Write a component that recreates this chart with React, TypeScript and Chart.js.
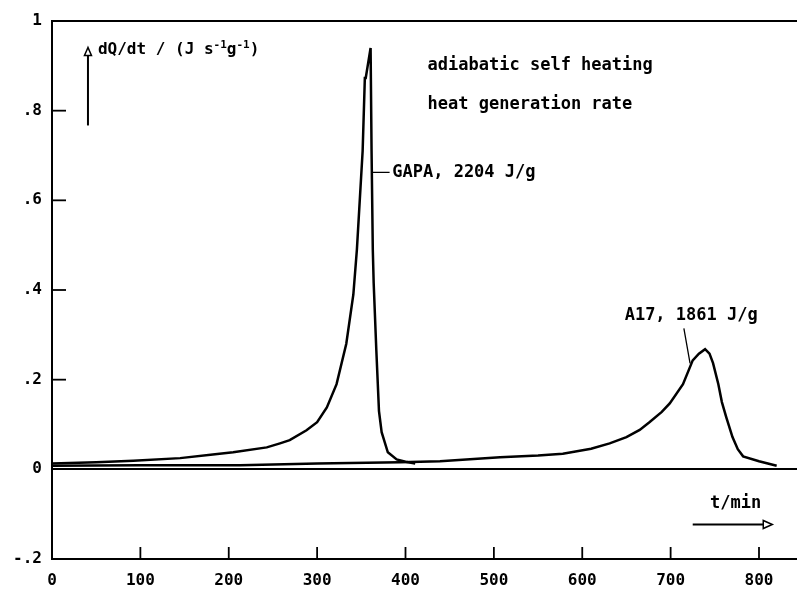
import React, { useEffect, useRef } from "react";
import { Chart, registerables } from "chart.js";
Chart.register(...registerables);

// GAPA sample: time (min) and heat generation rate (J s^-1 g^-1)
const gapaT = [0, 50, 92, 145, 182, 205, 243, 258, 269, 288, 300, 311, 322, 333, 341, 345, 351.5, 354, 355, 360.5, 361.6, 363, 364, 367, 370, 373, 380, 390, 400, 411];
const gapaQ = [0.013, 0.016, 0.019, 0.025, 0.033, 0.038, 0.049, 0.058, 0.065, 0.087, 0.105, 0.138, 0.19, 0.28, 0.39, 0.49, 0.71, 0.873, 0.873, 0.94, 0.71, 0.49, 0.415, 0.265, 0.13, 0.083, 0.038, 0.022, 0.017, 0.013];

// A17 sample
const a17T = [0, 100, 213, 300, 394, 439, 507, 550, 578, 610, 631, 650, 665, 676, 690, 699, 714, 725, 732, 739, 744, 748, 754, 758, 763, 770, 776, 782, 800, 820];
const a17Q = [0.008, 0.009, 0.009, 0.013, 0.016, 0.018, 0.027, 0.031, 0.035, 0.046, 0.058, 0.072, 0.088, 0.105, 0.128, 0.147, 0.19, 0.243, 0.258, 0.268, 0.258, 0.237, 0.19, 0.15, 0.116, 0.072, 0.045, 0.029, 0.018, 0.008];

const xTicks = [0, 100, 200, 300, 400, 500, 600, 700, 800];
const yTicks = [-0.2, 0, 0.2, 0.4, 0.6, 0.8, 1];
const yTickLabels = ["-.2", "0", ".2", ".4", ".6", ".8", "1"];

const FONT = "'DejaVu Sans Mono', monospace";

const decorations = {
  id: "decorations",
  afterDraw(chart: any) {
    const { ctx, chartArea, scales } = chart;
    const xs = scales.x;
    const ys = scales.y;
    const px = (v: number) => xs.getPixelForValue(v);
    const py = (v: number) => ys.getPixelForValue(v);
    ctx.save();
    ctx.strokeStyle = "#000";
    ctx.fillStyle = "#000";
    // top frame line
    ctx.lineWidth = 2;
    ctx.beginPath();
    ctx.moveTo(chartArea.left, chartArea.top);
    ctx.lineTo(chartArea.right, chartArea.top);
    ctx.stroke();
    // inward ticks
    ctx.lineWidth = 1.8;
    xTicks.forEach((v) => {
      if (v === 0) return;
      ctx.beginPath();
      ctx.moveTo(px(v), chartArea.bottom);
      ctx.lineTo(px(v), chartArea.bottom - 12);
      ctx.stroke();
    });
    yTicks.forEach((v) => {
      if (v <= 0 || v >= 1) return;
      ctx.beginPath();
      ctx.moveTo(chartArea.left, py(v));
      ctx.lineTo(chartArea.left + 14, py(v));
      ctx.stroke();
    });

    // texts
    ctx.textBaseline = "middle";
    ctx.textAlign = "left";
    ctx.font = `bold 17px ${FONT}`;
    ctx.fillText("adiabatic self heating", px(425), py(0.901));
    ctx.fillText("heat generation rate", px(425), py(0.814));
    ctx.fillText("GAPA, 2204 J/g", px(385), py(0.6625));
    ctx.fillText("A17, 1861 J/g", px(648), py(0.3435));
    ctx.fillText("t/min", px(744.6), py(-0.076));

    // leader lines
    ctx.lineWidth = 1.3;
    ctx.beginPath();
    ctx.moveTo(px(363), py(0.6625));
    ctx.lineTo(px(382), py(0.6625));
    ctx.moveTo(px(715), py(0.3145));
    ctx.lineTo(px(722), py(0.2365));
    ctx.stroke();

    // y label with superscripts
    let x = px(52);
    const yb = py(0.935);
    const parts: [string, boolean][] = [["dQ/dt / (J s", false], ["-1", true], ["g", false], ["-1", true], [")", false]];
    parts.forEach(([t, sup]) => {
      ctx.font = sup ? `bold 11px ${FONT}` : `bold 16px ${FONT}`;
      ctx.fillText(t, x, sup ? yb - 5 : yb);
      x += ctx.measureText(t).width;
    });

    // y arrow
    ctx.lineWidth = 2;
    const ax = px(40.7);
    const aTop = py(0.941);
    ctx.beginPath();
    ctx.moveTo(ax, py(0.767));
    ctx.lineTo(ax, aTop + 8);
    ctx.stroke();
    ctx.lineWidth = 1.5;
    ctx.beginPath();
    ctx.moveTo(ax, aTop);
    ctx.lineTo(ax - 3.5, aTop + 8);
    ctx.lineTo(ax + 3.5, aTop + 8);
    ctx.closePath();
    ctx.stroke();

    // x arrow
    ctx.lineWidth = 2;
    const ay = py(-0.123);
    const aRight = px(815);
    ctx.beginPath();
    ctx.moveTo(px(725), ay);
    ctx.lineTo(aRight - 9, ay);
    ctx.stroke();
    ctx.lineWidth = 1.5;
    ctx.beginPath();
    ctx.moveTo(aRight, ay);
    ctx.lineTo(aRight - 9, ay - 4);
    ctx.lineTo(aRight - 9, ay + 4);
    ctx.closePath();
    ctx.stroke();
    ctx.restore();
  },
};

export default function App() {
  const ref = useRef<HTMLCanvasElement>(null);
  useEffect(() => {
    if (!ref.current) return;
    const chart = new Chart(ref.current, {
      type: "line",
      data: {
        datasets: [
          {
            label: "GAPA",
            data: gapaT.map((t, i) => ({ x: t, y: gapaQ[i] })),
            borderColor: "#000",
            borderWidth: 2.5,
            pointRadius: 0,
            fill: false,
            tension: 0,
          },
          {
            label: "A17",
            data: a17T.map((t, i) => ({ x: t, y: a17Q[i] })),
            borderColor: "#000",
            borderWidth: 2.5,
            pointRadius: 0,
            fill: false,
            tension: 0,
          },
        ],
      },
      options: {
        animation: false,
        responsive: false,
        devicePixelRatio: 1,
        layout: { padding: { top: 21, right: 0, left: 0, bottom: 0 } },
        plugins: { legend: { display: false }, tooltip: { enabled: false } },
        scales: {
          x: {
            type: "linear",
            min: 0,
            max: 843,
            afterFit: (s: any) => {
              s.height = 38;
            },
            afterBuildTicks: (s: any) => {
              s.ticks = xTicks.map((v) => ({ value: v }));
            },
            grid: { display: false, drawTicks: false },
            border: { display: true, color: "#000", width: 2 },
            ticks: {
              color: "#000",
              padding: 12,
              maxRotation: 0,
              autoSkip: false,
              font: { family: FONT, size: 16, weight: "bold" },
            },
          },
          y: {
            type: "linear",
            min: -0.2,
            max: 1,
            afterFit: (s: any) => {
              s.width = 52;
            },
            afterBuildTicks: (s: any) => {
              s.ticks = yTicks.map((v) => ({ value: v }));
            },
            grid: {
              display: true,
              drawTicks: false,
              color: (c: any) => (c.tick && Math.abs(c.tick.value) < 1e-9 ? "#000" : "rgba(0,0,0,0)"),
              lineWidth: 2,
            },
            border: { display: true, color: "#000", width: 2 },
            ticks: {
              color: "#000",
              padding: 10,
              autoSkip: false,
              font: { family: FONT, size: 16, weight: "bold" },
              callback: (v: any) => {
                const i = yTicks.findIndex((t) => Math.abs(t - Number(v)) < 1e-9);
                return i >= 0 ? yTickLabels[i] : "";
              },
            },
          },
        },
      },
      plugins: [decorations],
    });
    return () => chart.destroy();
  }, []);
  return (
    <div style={{ position: "fixed", left: 0, top: 0, width: 797, height: 597, background: "#fff" }}>
      <canvas ref={ref} width={797} height={597} style={{ width: 797, height: 597 }} />
    </div>
  );
}
